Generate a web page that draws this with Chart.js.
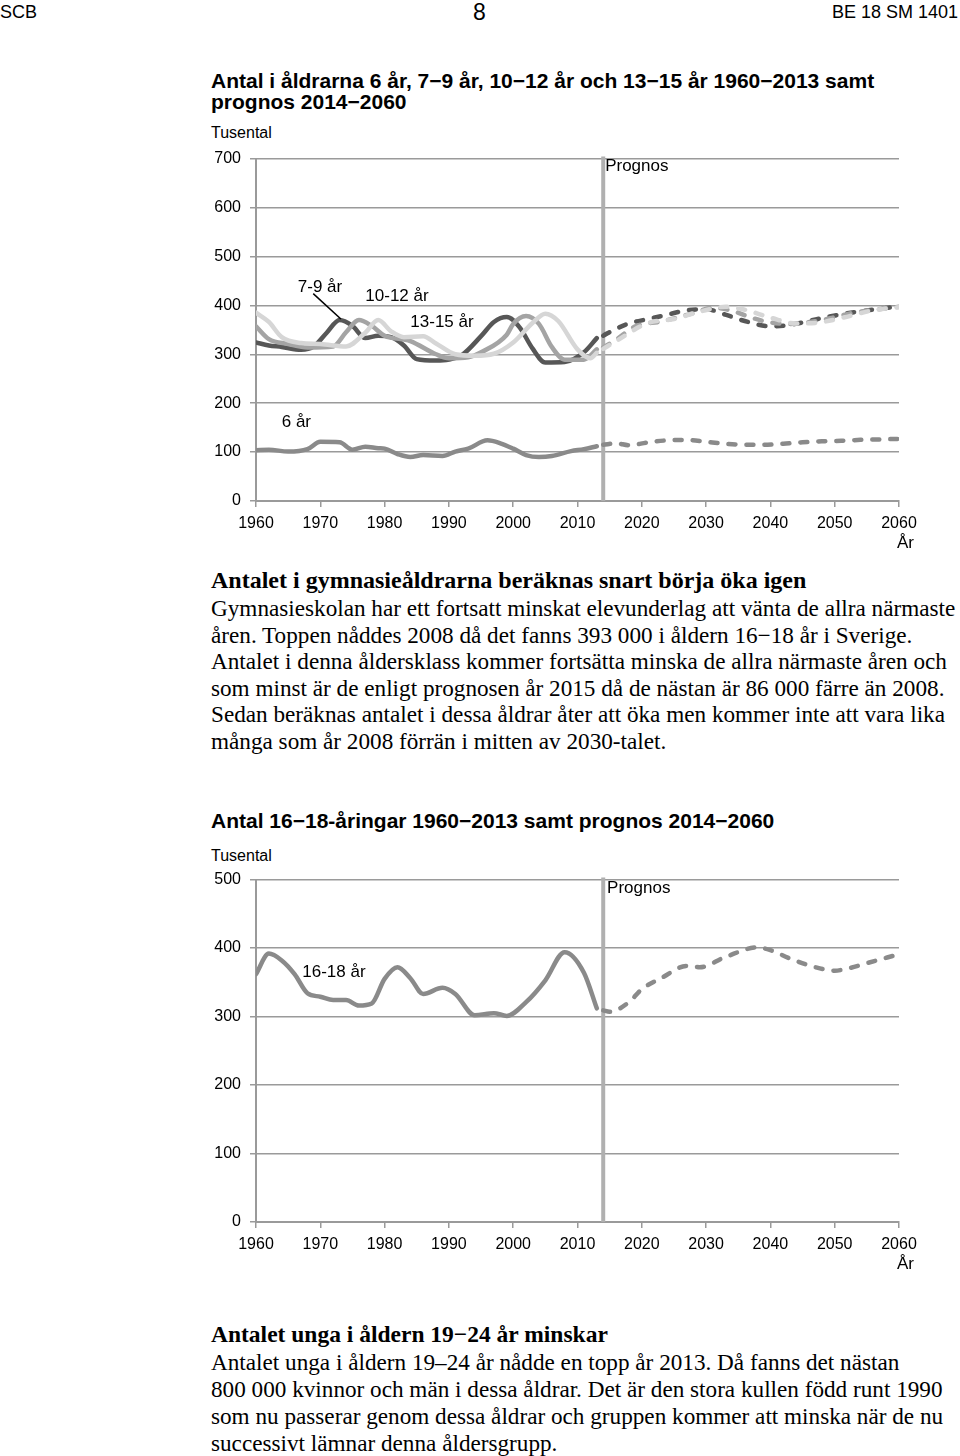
<!DOCTYPE html>
<html lang="sv">
<head>
<meta charset="utf-8">
<title>Antal i åldrarna 6–18 år</title>
<script src="https://cdn.jsdelivr.net/npm/chart.js@4.4.1/dist/chart.umd.min.js"></script>
<style>
  body { margin: 0; width: 960px; height: 1456px; position: relative; background: #fff; color: #000; overflow: hidden;
         font-family: "Liberation Sans", Arial, sans-serif; }
  .t { position: absolute; white-space: nowrap; }
  .hdr { font-size: 18px; line-height: 20px; top: 2px; }
  .title { font-size: 21px; font-weight: bold; line-height: 21px; left: 211px; }
  .unit { font-size: 16px; line-height: 20px; left: 211px; }
  .ar { font-size: 17px; line-height: 20px; left: 897px; }
  .serif { font-family: "Liberation Serif", "Times New Roman", serif; font-size: 23.2px; left: 211px; }
  .serif.head { font-size: 24px; font-weight: bold; line-height: 26px; }
  canvas { position: absolute; left: 200px; }
</style>
</head>
<body>
<div class="t hdr" style="left:0">SCB</div>
<div class="t hdr" style="left:473px; font-size:23px; top:0; line-height:24px">8</div>
<div class="t hdr" style="right:2px">BE 18 SM 1401</div>

<div class="t title" style="top:70px">Antal i åldrarna 6 år, 7−9 år, 10−12 år och 13−15 år 1960−2013 samt</div>
<div class="t title" style="top:91px">prognos 2014−2060</div>
<div class="t unit" style="top:123px">Tusental</div>
<canvas id="chartYoung" width="740" height="420" style="top:140px"></canvas>
<div class="t ar" style="top:533px">År</div>

<div class="t serif head" style="top:567px">Antalet i gymnasieåldrarna beräknas snart börja öka igen</div>
<div class="t serif" style="top:595px; line-height:26.6px">Gymnasieskolan har ett fortsatt minskat elevunderlag att vänta de allra närmaste<br>åren. Toppen nåddes 2008 då det fanns 393 000 i åldern 16−18 år i Sverige.<br>Antalet i denna åldersklass kommer fortsätta minska de allra närmaste åren och<br>som minst är de enligt prognosen år 2015 då de nästan är 86 000 färre än 2008.<br>Sedan beräknas antalet i dessa åldrar åter att öka men kommer inte att vara lika<br>många som år 2008 förrän i mitten av 2030-talet.</div>

<div class="t title" style="top:810px">Antal 16−18-åringar 1960−2013 samt prognos 2014−2060</div>
<div class="t unit" style="top:846px">Tusental</div>
<canvas id="chartGymn" width="740" height="420" style="top:861px"></canvas>
<div class="t ar" style="top:1254px">År</div>

<div class="t serif head" style="top:1321px; font-size:23.5px">Antalet unga i åldern 19−24 år minskar</div>
<div class="t serif" style="top:1349px; line-height:27px">Antalet unga i åldern 19–24 år nådde en topp år 2013. Då fanns det nästan<br>800 000 kvinnor och män i dessa åldrar. Det är den stora kullen född runt 1990<br>som nu passerar genom dessa åldrar och gruppen kommer att minska när de nu<br>successivt lämnar denna åldersgrupp.</div>

<script>
// tusental, utfall 1960-2013 och prognos 2014-2060
const prognosStart = 2014;
const yearTicks = [1960, 1970, 1980, 1990, 2000, 2010, 2020, 2030, 2040, 2050, 2060];

const age6HistYears = [1960, 1962, 1965, 1968, 1970, 1973, 1975, 1977, 1979, 1980, 1982, 1984, 1986, 1989, 1991, 1993, 1996, 1998, 2000, 2002, 2004, 2006, 2009, 2011, 2013];
const age6Hist = [104, 105, 101, 106, 121, 120, 105, 111, 108, 107, 96, 90, 94, 92, 101, 107, 124, 118, 107, 94, 90, 92, 102, 106, 112];
const age6ProgYears = [2014, 2016, 2018, 2021, 2024, 2027, 2030, 2033, 2036, 2039, 2042, 2045, 2048, 2051, 2054, 2057, 2060];
const age6Prog = [115, 118, 114, 120, 124, 125, 121, 117, 115, 115, 117, 120, 122, 123, 125, 126, 127];

const age7HistYears = [1960, 1962, 1964, 1967, 1969, 1971, 1973, 1975, 1977, 1979, 1981, 1983, 1985, 1988, 1990, 1992, 1995, 1997, 1999, 2001, 2003, 2005, 2008, 2011, 2013];
const age7Hist = [324, 318, 315, 309, 316, 344, 370, 358, 333, 338, 335, 318, 290, 287, 289, 298, 337, 366, 376, 355, 312, 283, 284, 304, 333];
const age7ProgYears = [2014, 2016, 2018, 2021, 2024, 2027, 2030, 2033, 2036, 2040, 2043, 2048, 2053, 2057, 2060];
const age7Prog = [338, 352, 363, 372, 381, 390, 392, 381, 368, 357, 360, 374, 386, 393, 398];

const age10HistYears = [1960, 1962, 1965, 1968, 1972, 1974, 1976, 1978, 1980, 1984, 1988, 1990, 1993, 1995, 1999, 2000, 2002, 2004, 2006, 2008, 2011, 2013];
const age10Hist = [357, 331, 321, 314, 316, 345, 370, 358, 338, 327, 300, 292, 294, 304, 340, 362, 378, 362, 315, 289, 289, 310];
const age10ProgYears = [2014, 2016, 2019, 2023, 2028, 2031, 2034, 2037, 2040, 2043, 2048, 2053, 2060];
const age10Prog = [314, 330, 357, 367, 384, 395, 389, 375, 365, 362, 370, 385, 397];

const age13HistYears = [1960, 1962, 1964, 1967, 1970, 1974, 1977, 1979, 1981, 1983, 1986, 1988, 1991, 1994, 1997, 2000, 2003, 2005, 2007, 2010, 2012, 2013];
const age13Hist = [385, 366, 335, 323, 321, 316, 344, 370, 347, 335, 337, 322, 300, 297, 301, 324, 364, 383, 368, 310, 292, 303];
const age13ProgYears = [2014, 2016, 2021, 2025, 2029, 2033, 2036, 2040, 2044, 2047, 2051, 2056, 2060];
const age13Prog = [311, 327, 364, 372, 387, 397, 391, 375, 363, 364, 374, 390, 396];

const age16HistYears = [1960, 1962, 1964, 1966, 1968, 1970, 1972, 1974, 1976, 1978, 1980, 1982, 1984, 1986, 1989, 1991, 1994, 1997, 1999, 2002, 2005, 2008, 2011, 2013];
const age16Hist = [362, 392, 382, 362, 334, 329, 324, 324, 316, 319, 355, 372, 356, 333, 342, 333, 302, 305, 301, 321, 353, 394, 364, 312];
const age16ProgYears = [2014, 2015, 2018, 2020, 2023, 2027, 2029, 2033, 2038, 2040, 2043, 2047, 2050, 2052, 2055, 2060];
const age16Prog = [309, 307, 321, 340, 356, 374, 372, 387, 401, 397, 385, 372, 367, 370, 378, 391];

const DARK = '#575757', MID = '#a4a4a4', LIGHT = '#d6d6d6', GREY = '#8a8a8a';

Chart.defaults.font.family = '"Liberation Sans", Arial, sans-serif';
Chart.defaults.font.size = 16;
Chart.defaults.color = '#000';

function pts(years, values) {
  return years.map((y, i) => ({ x: y, y: values[i] }));
}

function line(years, values, color, dashed) {
  return {
    data: pts(years, values),
    borderColor: color,
    borderWidth: 4.5,
    borderDash: dashed ? [7, 11] : [],
    borderCapStyle: 'round',
    pointRadius: 0,
    cubicInterpolationMode: 'monotone',
    fill: false
  };
}

// prognoslinje och texter i diagrammet
const notesPlugin = {
  id: 'notes',
  beforeDatasetsDraw(chart) {
    const { ctx, chartArea, scales } = chart;
    const px = scales.x.getPixelForValue(prognosStart);
    ctx.save();
    ctx.strokeStyle = '#b0b0b0';
    ctx.lineWidth = 4;
    ctx.beginPath();
    ctx.moveTo(px, chartArea.top - 2);
    ctx.lineTo(px, chartArea.bottom);
    ctx.stroke();
    ctx.restore();
  },
  afterDatasetsDraw(chart, args, opts) {
    const { ctx, scales: { x, y } } = chart;
    ctx.save();
    ctx.fillStyle = '#000';
    ctx.font = '17px "Liberation Sans", Arial, sans-serif';
    ctx.textBaseline = 'middle';
    (opts.items || []).forEach(it => {
      ctx.fillText(it.text, x.getPixelForValue(it.x), y.getPixelForValue(it.y));
    });
    ctx.strokeStyle = '#000';
    ctx.lineWidth = 1.5;
    (opts.leaders || []).forEach(l => {
      ctx.beginPath();
      ctx.moveTo(x.getPixelForValue(l[0]), y.getPixelForValue(l[1]));
      ctx.lineTo(x.getPixelForValue(l[2]), y.getPixelForValue(l[3]));
      ctx.stroke();
    });
    ctx.restore();
  }
};

function options(yMax, notes) {
  return {
    responsive: false,
    animation: false,
    layout: { padding: { top: 12, right: 41, left: 0, bottom: 0 } },
    plugins: { legend: { display: false }, tooltip: { enabled: false }, notes: notes },
    scales: {
      x: {
        type: 'linear', min: 1960, max: 2060,
        afterBuildTicks: s => { s.ticks = yearTicks.map(v => ({ value: v })); },
        afterFit: s => { s.height = 59; },
        ticks: { callback: v => String(v), padding: 7, maxRotation: 0, autoSkip: false },
        grid: { drawOnChartArea: false, drawTicks: true, tickLength: 6, color: '#9a9a9a', lineWidth: 1.5 },
        border: { color: '#9a9a9a', width: 2 }
      },
      y: {
        min: 0, max: yMax,
        afterFit: s => { s.width = 56; },
        ticks: { stepSize: 100, padding: 9 },
        grid: { color: '#9a9a9a', lineWidth: 1.5, tickLength: 6 },
        border: { color: '#9a9a9a', width: 2 }
      }
    }
  };
}

new Chart(document.getElementById('chartYoung'), {
  type: 'line',
  data: {
    datasets: [
      line(age6HistYears, age6Hist, GREY, false),
      line(age6ProgYears, age6Prog, GREY, true),
      line(age13HistYears, age13Hist, LIGHT, false),
      line(age13ProgYears, age13Prog, LIGHT, true),
      line(age10HistYears, age10Hist, MID, false),
      line(age10ProgYears, age10Prog, MID, true),
      line(age7HistYears, age7Hist, DARK, false),
      line(age7ProgYears, age7Prog, DARK, true)
    ]
  },
  options: options(700, {
    items: [
      { text: '7-9 år', x: 1966.5, y: 436 },
      { text: '10-12 år', x: 1977, y: 418 },
      { text: '13-15 år', x: 1984, y: 366 },
      { text: '6 år', x: 1964, y: 160 },
      { text: 'Prognos', x: 2014.3, y: 684 }
    ],
    leaders: [[1968.9, 424, 1973.2, 372]]
  }),
  plugins: [notesPlugin]
});

new Chart(document.getElementById('chartGymn'), {
  type: 'line',
  data: {
    datasets: [
      line(age16HistYears, age16Hist, GREY, false),
      line(age16ProgYears, age16Prog, GREY, true)
    ]
  },
  options: options(500, {
    items: [
      { text: '16-18 år', x: 1967.2, y: 365 },
      { text: 'Prognos', x: 2014.6, y: 487 }
    ]
  }),
  plugins: [notesPlugin]
});
</script>
</body>
</html>
